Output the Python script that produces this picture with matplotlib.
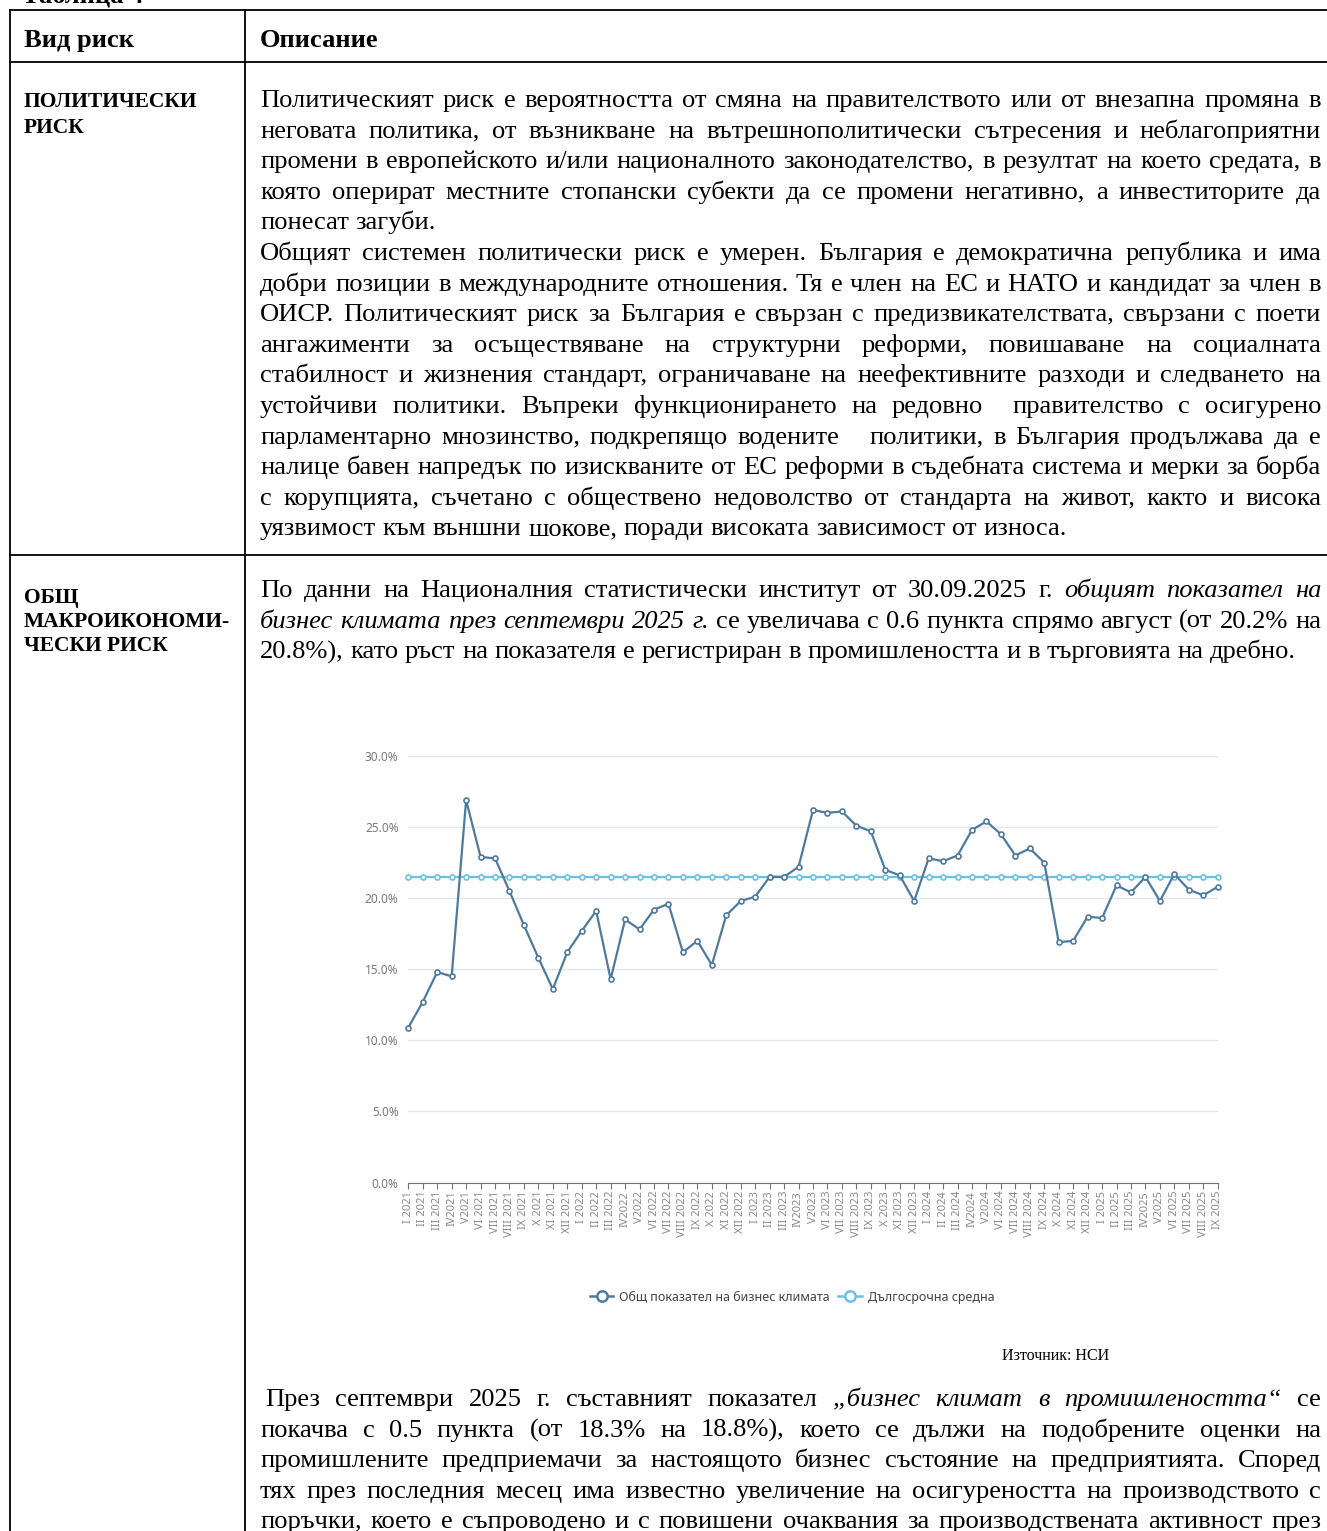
import matplotlib
matplotlib.use("Agg")
import matplotlib.pyplot as plt
from matplotlib.font_manager import FontProperties
from matplotlib.lines import Line2D

W, H = 1327, 1531

# chart data: business climate index, Jan 2021 - Sep 2025 (%)
months = ["I 2021", "II 2021", "III 2021", "IV2021", "V2021", "VI 2021", "VII 2021", "VIII 2021",
          "IX 2021", "X 2021", "XI 2021", "XII 2021",
          "I 2022", "II 2022", "III 2022", "IV2022", "V2022", "VI 2022", "VII 2022", "VIII 2022",
          "IX 2022", "X 2022", "XI 2022", "XII 2022",
          "I 2023", "II 2023", "III 2023", "IV2023", "V2023", "VI 2023", "VII 2023", "VIII 2023",
          "IX 2023", "X 2023", "XI 2023", "XII 2023",
          "I 2024", "II 2024", "III 2024", "IV2024", "V2024", "VI 2024", "VII 2024", "VIII 2024",
          "IX 2024", "X 2024", "XI 2024", "XII 2024",
          "I 2025", "II 2025", "III 2025", "IV2025", "V2025", "VI 2025", "VII 2025", "VIII 2025",
          "IX 2025"]
business_climate = [10.9, 12.7, 14.8, 14.5, 26.9, 22.9, 22.8, 20.5, 18.1, 15.8, 13.6, 16.2,
                    17.7, 19.1, 14.3, 18.5, 17.8, 19.2, 19.6, 16.2, 17.0, 15.3, 18.8, 19.8,
                    20.1, 21.5, 21.5, 22.2, 26.2, 26.0, 26.1, 25.1, 24.7, 22.0, 21.6, 19.8,
                    22.8, 22.6, 23.0, 24.8, 25.4, 24.5, 23.0, 23.5, 22.5, 16.9, 17.0, 18.7,
                    18.6, 20.9, 20.4, 21.5, 19.8, 21.7, 20.6, 20.2, 20.8]
long_term_avg = 21.5
y_ticks = [0, 5, 10, 15, 20, 25, 30]
series_names = ["Общ показател на бизнес климата", "Дългосрочна средна"]

# document text ("|" toggles italic)
header = ["Вид риск", "Описание"]
row1_label = ["ПОЛИТИЧЕСКИ", "РИСК"]
row2_label = ["ОБЩ", "МАКРОИКОНОМИ-", "ЧЕСКИ РИСК"]
row1_paras = [
    ["Политическият риск е вероятността от смяна на правителството или от внезапна промяна в",
     "неговата политика, от възникване на вътрешнополитически сътресения и неблагоприятни",
     "промени в европейското и/или националното законодателство, в резултат на което средата, в",
     "която оперират местните стопански субекти да се промени негативно, а инвеститорите да",
     "понесат загуби."],
    ["Общият системен политически риск е умерен. България е демократична република и има",
     "добри позиции в международните отношения. Тя е член на ЕС и НАТО и кандидат за член в",
     "ОИСР. Политическият риск за България е свързан с предизвикателствата, свързани с поети",
     "ангажименти за осъществяване на структурни реформи, повишаване на социалната",
     "стабилност и жизнения стандарт, ограничаване на неефективните разходи и следването на",
     "устойчиви политики. Въпреки функционирането на редовно  правителство с осигурено",
     "парламентарно мнозинство, подкрепящо водените   политики, в България продължава да е",
     "налице бавен напредък по изискваните от ЕС реформи в съдебната система и мерки за борба",
     "с корупцията, съчетано с обществено недоволство от стандарта на живот, както и висока",
     "уязвимост към външни шокове, поради високата зависимост от износа."],
]
row2_para1 = [
    "По данни на Националния статистически институт от 30.09.2025 г. |общият показател на|",
    "|бизнес климата през септември 2025 г.| се увеличава с 0.6 пункта спрямо август (от 20.2% на",
    "20.8%), като ръст на показателя е регистриран в промишлеността и в търговията на дребно.",
]
row2_para2 = [
    "През септември 2025 г. съставният показател |„бизнес климат в промишлеността“| се",
    "покачва с 0.5 пункта (от 18.3% на 18.8%), което се дължи на подобрените оценки на",
    "промишлените предприемачи за настоящото бизнес състояние на предприятията. Според",
    "тях през последния месец има известно увеличение на осигуреността на производството с",
    "поръчки, което е съпроводено и с повишени очаквания за производствената активност през",
]
source_note = "Източник: НСИ"

SERIF = "Liberation Serif"
SANS = ["Noto Sans", "DejaVu Sans"]
X0, X1 = 260, 1321

fig = plt.figure(figsize=(W / 100, H / 100), dpi=100)
renderer = fig.canvas.get_renderer()


def fx(x):
    return x / W


def fy(y):
    return 1 - y / H


def hline(y, x0=10, x1=W):
    fig.add_artist(Line2D([fx(x0), fx(x1)], [fy(y), fy(y)], color="black", lw=1.3))


def vline(x, y0, y1=H):
    fig.add_artist(Line2D([fx(x), fx(x)], [fy(y0), fy(y1)], color="black", lw=1.3))


def text_width(s, size, italic=False, bold=False):
    fp = FontProperties(family=SERIF, size=size, style="italic" if italic else "normal",
                        weight="bold" if bold else "normal")
    w, _, _ = renderer.get_text_width_height_descent(s, fp, ismath=False)
    return w


def split_words(line):
    words = []
    italic = False
    for tok in line.split(" "):
        if tok.startswith("|"):
            italic = True
        words.append((tok.strip("|"), italic))
        if tok.endswith("|") and len(tok) > 1:
            italic = False
    return words


def natural_width(line, size):
    words = split_words(line)
    return sum(text_width(w, size, it) for w, it in words) + (len(words) - 1) * text_width(" ", size)


# pick the body size so the tightest justified line just fits the column (as Word does)
justified_lines = [l for p in row1_paras for l in p[:-1]] + row2_para1[:-1] + row2_para2
FS = min(15.0 * (X1 - X0 - 4) / natural_width(l, 15.0) for l in justified_lines)


def justified(line, x0, x1, y, last=False):
    words = split_words(line)
    widths = [text_width(w, FS, it) for w, it in words]
    if last or len(words) < 2:
        gap = text_width(" ", FS)
    else:
        gap = (x1 - x0 - sum(widths)) / (len(words) - 1)
    x = x0
    for (w, it), wd in zip(words, widths):
        if w:
            fig.text(fx(x), fy(y), w, family=SERIF, fontsize=FS,
                     style="italic" if it else "normal", ha="left", va="baseline")
        x += wd + gap


# table frame
hline(10)
hline(62)
hline(555)
vline(10, 10)
vline(245, 10)

fig.text(fx(22), fy(4), "Таблица 4", family=SERIF, fontsize=FS, weight="bold", va="baseline")
fig.text(fx(24), fy(47), header[0], family=SERIF, fontsize=FS, weight="bold", va="baseline")
fig.text(fx(260), fy(47), header[1], family=SERIF, fontsize=FS, weight="bold", va="baseline")

LS = 13.5 * 206 / text_width("МАКРОИКОНОМИ-", 13.5, bold=True)
for i, s in enumerate(row1_label):
    fig.text(fx(24), fy(107 + 26 * i), s, family=SERIF, fontsize=LS, weight="bold", va="baseline")
for i, s in enumerate(row2_label):
    fig.text(fx(24), fy(603 + 24 * i), s, family=SERIF, fontsize=LS, weight="bold", va="baseline")

ln = 0
for para in row1_paras:
    for j, line in enumerate(para):
        justified(line, X0, X1, 107 + 30.6 * ln, last=(j == len(para) - 1))
        ln += 1

for j, line in enumerate(row2_para1):
    justified(line, X0, X1, 597 + 30.6 * j, last=(j == len(row2_para1) - 1))
for j, line in enumerate(row2_para2):
    justified(line, X0 + 5 if j == 0 else X0, X1, 1406 + 30.6 * j)

fig.text(fx(1002), fy(1360), source_note, family=SERIF, fontsize=11.5, va="baseline")

# chart
x_left, x_right, y_top, y_bot = 408.3, 1217.7, 756, 1182.5
ax = fig.add_axes([fx(x_left), fy(y_bot), (x_right - x_left) / W, (y_bot - y_top) / H])
xs = list(range(len(business_climate)))
main_c = "#4f7a9c"
avg_c = "#6cc0e4"
ax.plot(xs, [long_term_avg] * len(xs), color=avg_c, lw=1.6, marker="o", ms=3.6,
        mfc="white", mec=avg_c, mew=1.2, clip_on=False, zorder=3)
ax.plot(xs, business_climate, color=main_c, lw=1.6, marker="o", ms=3.6,
        mfc="white", mec=main_c, mew=1.2, clip_on=False, zorder=4)
ax.set_xlim(0, len(xs) - 1)
ax.set_ylim(0, 30)
ax.set_yticks(y_ticks)
ax.set_yticklabels([f"{v:.1f}%" for v in y_ticks], family=SANS, fontsize=8.5, color="#7a7a7a")
ax.set_xticks(xs)
ax.set_xticklabels(months, rotation=90, family=SANS, fontsize=8, color="#8a8a8a")
ax.grid(axis="y", color="#e3e6ef", lw=1)
ax.set_axisbelow(True)
for sp in ["top", "right", "left"]:
    ax.spines[sp].set_visible(False)
ax.spines["bottom"].set_color("#6e7079")
ax.tick_params(axis="y", length=0, pad=7)
ax.tick_params(axis="x", length=4, color="#6e7079", pad=2)

handles = [Line2D([], [], color=main_c, lw=1.8, marker="o", ms=7.5, mfc="white", mec=main_c, mew=1.8),
           Line2D([], [], color=avg_c, lw=1.8, marker="o", ms=7.5, mfc="white", mec=avg_c, mew=1.8)]
fig.legend(handles, series_names, loc="center", bbox_to_anchor=(fx(792), fy(1297)), ncol=2,
           frameon=False, handlelength=1.9, handletextpad=0.45, columnspacing=0.7,
           prop=FontProperties(family=SANS, size=9), labelcolor="#444444")

fig.savefig("out.png", dpi=100)
